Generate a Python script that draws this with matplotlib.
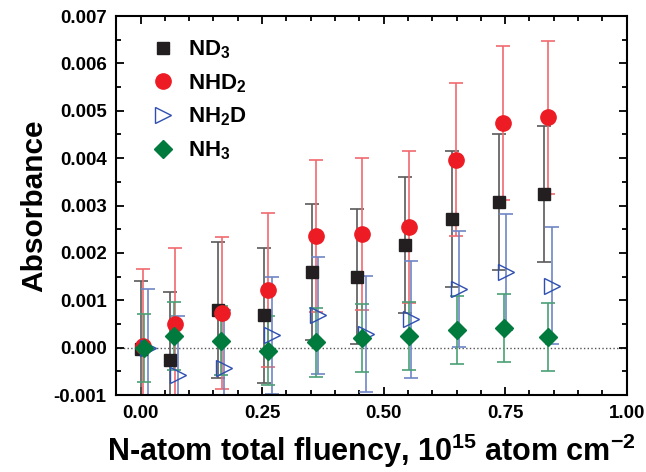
import matplotlib.pyplot as plt
import numpy as np
from matplotlib.ticker import MultipleLocator

plt.rcParams['font.family'] = ['Liberation Sans', 'DejaVu Sans']
plt.rcParams['font.weight'] = 'bold'
plt.rcParams['mathtext.default'] = 'regular'

# data
x_nd3 = [0.000, 0.060, 0.159, 0.254, 0.353, 0.446, 0.543, 0.640, 0.737, 0.831]
y_nd3 = [-0.00002, -0.00025, 0.00080, 0.00068, 0.00160, 0.00150, 0.00217, 0.00272, 0.00308, 0.00324]
e_nd3 = [0.00143] * 10

x_nhd2 = [0.005, 0.070, 0.167, 0.263, 0.360, 0.456, 0.552, 0.649, 0.745, 0.839]
y_nhd2 = [0.00004, 0.00050, 0.00073, 0.00122, 0.00236, 0.00240, 0.00255, 0.00397, 0.00474, 0.00486]
e_nhd2 = [0.00162, 0.00161, 0.00161, 0.00162, 0.00161, 0.00160, 0.00161, 0.00161, 0.00162, 0.00162]

x_nh2d = [0.015, 0.076, 0.172, 0.271, 0.366, 0.464, 0.556, 0.656, 0.752, 0.846]
y_nh2d = [0.00000, -0.00057, -0.00043, 0.00026, 0.00068, 0.00029, 0.00060, 0.00124, 0.00160, 0.00131]
e_nh2d = [0.00123] * 10

x_nh3 = [0.008, 0.068, 0.165, 0.262, 0.360, 0.456, 0.552, 0.650, 0.747, 0.839]
y_nh3 = [0.00000, 0.00025, 0.00015, -0.00006, 0.00011, 0.00020, 0.00025, 0.00038, 0.00042, 0.00023]
e_nh3 = [0.00072] * 10

fig = plt.figure(figsize=(6.46, 4.72), dpi=100)
ax = fig.add_axes([0.180, 0.163, 0.790, 0.803])

ax.axhline(0, color='#555555', linestyle=':', linewidth=1.0, zorder=1)

ax.errorbar(x_nd3, y_nd3, yerr=e_nd3, fmt='none', ecolor='#5a5a5a', elinewidth=1.2, capsize=5, capthick=1.2, zorder=2)
ax.errorbar(x_nhd2, y_nhd2, yerr=e_nhd2, fmt='none', ecolor='#f06a6e', elinewidth=1.2, capsize=5, capthick=1.2, zorder=2)
ax.errorbar(x_nh2d, y_nh2d, yerr=e_nh2d, fmt='none', ecolor='#6f86c6', elinewidth=1.2, capsize=5, capthick=1.2, zorder=2)
ax.errorbar(x_nh3, y_nh3, yerr=e_nh3, fmt='none', ecolor='#4aa074', elinewidth=1.2, capsize=5, capthick=1.2, zorder=2)

ax.plot(x_nd3, y_nd3, 's', color='#231f20', markersize=9, linestyle='none', label='ND$_3$', zorder=3)
ax.plot(x_nhd2, y_nhd2, 'o', color='#ed1c24', markersize=11, linestyle='none', label='NHD$_2$', zorder=3)
ax.plot(x_nh2d, y_nh2d, '>', markerfacecolor='none', markeredgecolor='#2f4fb0', markeredgewidth=1.0,
        markersize=11, linestyle='none', label='NH$_2$D', zorder=3)
ax.plot(x_nh3, y_nh3, 'D', color='#007a3d', markersize=9.5, linestyle='none', label='NH$_3$', zorder=3)

ax.set_xlim(-0.05, 1.0)
ax.set_ylim(-0.001, 0.007)
ax.xaxis.set_major_locator(MultipleLocator(0.25))
ax.xaxis.set_minor_locator(MultipleLocator(0.05))
ax.yaxis.set_major_locator(MultipleLocator(0.001))
ax.yaxis.set_minor_locator(MultipleLocator(0.0005))
ax.xaxis.set_major_formatter(plt.FormatStrFormatter('%.2f'))
ax.yaxis.set_major_formatter(plt.FormatStrFormatter('%.3f'))

ax.tick_params(which='both', direction='in', top=True, right=True, labelsize=13.5, width=1.3)
ax.tick_params(which='major', length=6, pad=7)
ax.tick_params(which='minor', length=3.5)
for s in ax.spines.values():
    s.set_linewidth(1.5)

ax.set_xlabel('N-atom total fluency, 10$^{15}$ atom cm$^{-2}$', fontsize=22, fontweight='bold', labelpad=7)
ax.set_ylabel('Absorbance', fontsize=21.5, fontweight='bold', labelpad=4)

leg = ax.legend(loc='upper left', frameon=False, fontsize=16, handletextpad=0.4,
                borderaxespad=0.3, labelspacing=0.5, numpoints=1, handlelength=1.5,
                bbox_to_anchor=(0.028, 0.982))
for t in leg.get_texts():
    t.set_fontweight('bold')

fig.savefig('out.png', dpi=100)
